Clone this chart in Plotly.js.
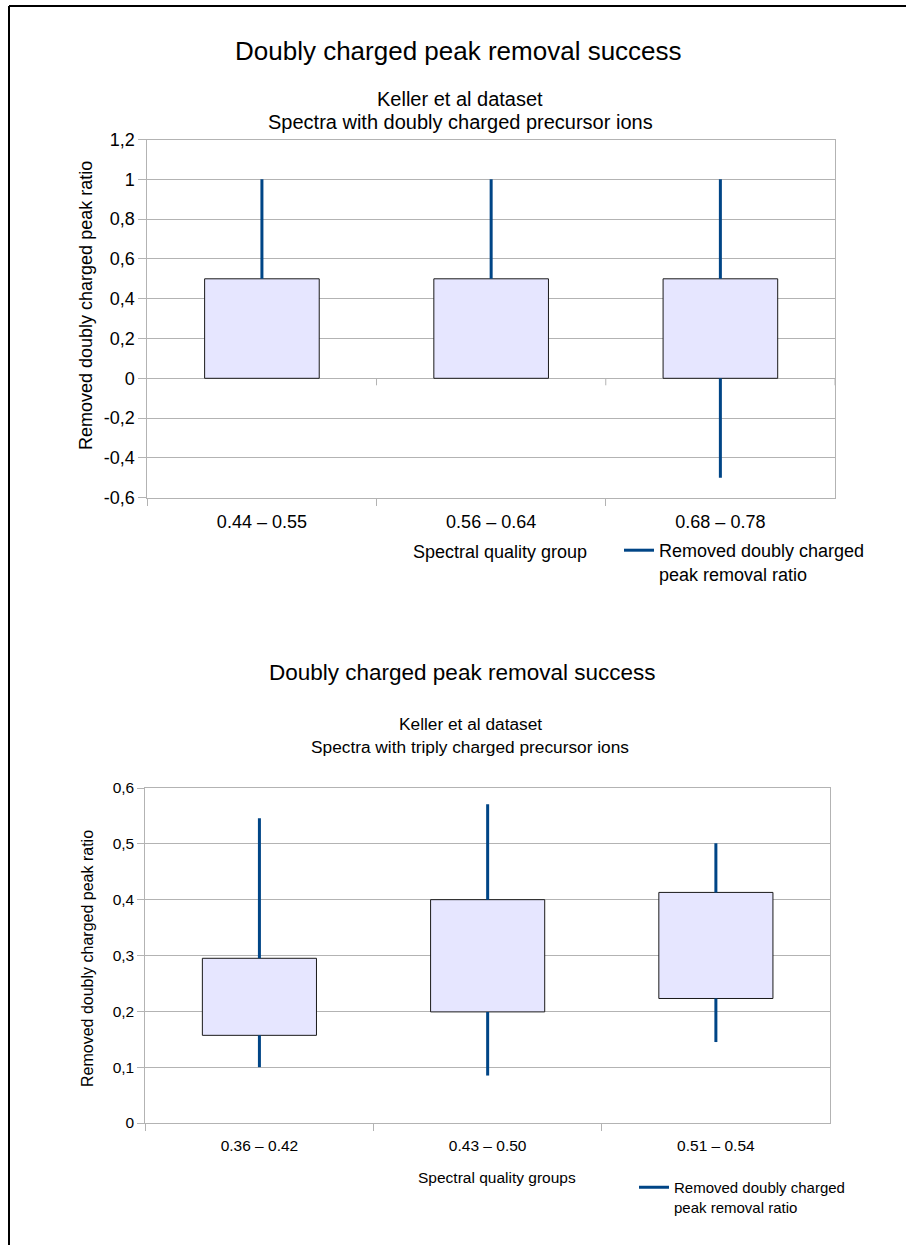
<!DOCTYPE html>
<html>
<head>
<meta charset="utf-8">
<script src="https://cdn.plot.ly/plotly-3.0.1.min.js"></script>
<style>
html,body{margin:0;padding:0;background:#fff;}
#chart{width:906px;height:1245px;}
</style>
</head>
<body>
<div id="chart"></div>
<script>
// ---------- data ----------
const topCategories = ['0.44 – 0.55', '0.56 – 0.64', '0.68 – 0.78'];
const topLow = [0, 0, -0.5];
const topBoxLow = [0, 0, 0];
const topBoxHigh = [0.5, 0.5, 0.5];
const topHigh = [1, 1, 1];

const bottomCategories = ['0.36 – 0.42', '0.43 – 0.50', '0.51 – 0.54'];
const bottomLow = [0.10, 0.085, 0.145];
const bottomBoxLow = [0.157, 0.199, 0.223];
const bottomBoxHigh = [0.295, 0.400, 0.413];
const bottomHigh = [0.546, 0.571, 0.501];

const topYTickVals = [-0.6, -0.4, -0.2, 0, 0.2, 0.4, 0.6, 0.8, 1, 1.2];
const topYTickText = ['-0,6', '-0,4', '-0,2', '0', '0,2', '0,4', '0,6', '0,8', '1', '1,2'];
const bottomYTickVals = [0, 0.1, 0.2, 0.3, 0.4, 0.5, 0.6];
const bottomYTickText = ['0', '0,1', '0,2', '0,3', '0,4', '0,5', '0,6'];

const seriesName = 'Removed doubly charged<br>peak removal ratio';
const yTitle = 'Removed doubly charged peak ratio';
const mainTitle = 'Doubly charged peak removal success';
const topSub1 = 'Keller et al dataset';
const topSub2 = 'Spectra with doubly charged precursor ions';
const bottomSub2 = 'Spectra with triply charged precursor ions';
const topXTitle = 'Spectral quality group';
const bottomXTitle = 'Spectral quality groups';

// ---------- helpers ----------
const W = 906, H = 1245;
const px = x => x / W;
const py = y => 1 - y / H;
const FONT = 'Liberation Sans, Arial, sans-serif';
const GRID = '#b3b3b3';
const BLUE = '#004586';

function whiskers(cats, low, q1, q3, high) {
  const xs = [], ys = [];
  cats.forEach((c, i) => {
    xs.push(c, c, null, c, c, null);
    ys.push(low[i], q1[i], null, q3[i], high[i], null);
  });
  return {x: xs, y: ys};
}

const wTop = whiskers(topCategories, topLow, topBoxLow, topBoxHigh, topHigh);
const wBot = whiskers(bottomCategories, bottomLow, bottomBoxLow, bottomBoxHigh, bottomHigh);

const traces = [
  {
    type: 'bar', x: topCategories, base: topBoxLow,
    y: topBoxHigh.map((v, i) => v - topBoxLow[i]),
    width: 0.5, xaxis: 'x', yaxis: 'y', showlegend: false, hoverinfo: 'skip',
    marker: {color: '#e6e6ff', line: {color: '#1a1a1a', width: 1}}
  },
  {
    type: 'scatter', mode: 'lines', x: wTop.x, y: wTop.y, xaxis: 'x', yaxis: 'y',
    name: seriesName, legend: 'legend', connectgaps: false,
    line: {color: BLUE, width: 3}
  },
  {
    type: 'bar', x: bottomCategories, base: bottomBoxLow,
    y: bottomBoxHigh.map((v, i) => v - bottomBoxLow[i]),
    width: 0.5, xaxis: 'x2', yaxis: 'y2', showlegend: false, hoverinfo: 'skip',
    marker: {color: '#e6e6ff', line: {color: '#1a1a1a', width: 1}}
  },
  {
    type: 'scatter', mode: 'lines', x: wBot.x, y: wBot.y, xaxis: 'x2', yaxis: 'y2',
    name: seriesName, legend: 'legend2', connectgaps: false,
    line: {color: BLUE, width: 3}
  }
];

function xAxis(domain, anchor, size) {
  return {
    type: 'category', domain: domain, anchor: anchor, range: [-0.5, 2.5],
    showgrid: false, zeroline: false, ticks: 'outside', ticklen: 7, tickwidth: 1,
    tickcolor: GRID, tickson: 'boundaries', showline: true, linecolor: GRID,
    linewidth: 1, mirror: true, ticklabelstandoff: 8,
    tickfont: {family: FONT, size: size, color: '#000'},
    fixedrange: true
  };
}
function yAxis(domain, anchor, range, vals, text, size, ticklen) {
  return {
    domain: domain, anchor: anchor, range: range, tickmode: 'array',
    tickvals: vals, ticktext: text, showgrid: true, gridcolor: GRID, gridwidth: 1,
    zeroline: false, ticks: 'outside', ticklen: ticklen, tickcolor: GRID,
    showline: true, linecolor: GRID, linewidth: 1, mirror: true,
    tickfont: {family: FONT, size: size, color: '#000'}, fixedrange: true
  };
}

const ann = (text, x, y, size, extra) => Object.assign({
  text: text, xref: 'paper', yref: 'paper', x: px(x), y: py(y),
  xanchor: 'center', yanchor: 'middle', showarrow: false,
  font: {family: FONT, size: size, color: '#000'}
}, extra || {});

const layout = {
  width: W, height: H,
  margin: {l: 0, r: 0, t: 0, b: 0, pad: 0, autoexpand: false},
  paper_bgcolor: '#fff', plot_bgcolor: '#fff',
  font: {family: FONT, color: '#000'},
  xaxis: xAxis([px(147.3), px(835)], 'y', 18),
  yaxis: yAxis([py(497.7), py(139.5)], 'x', [-0.6, 1.2], topYTickVals, topYTickText, 18, 8),
  xaxis2: xAxis([px(145.3), px(830)], 'y2', 15.5),
  yaxis2: yAxis([py(1123), py(788)], 'x2', [0, 0.6], bottomYTickVals, bottomYTickText, 15.5, 7),
  legend: {
    x: px(619), y: py(532), xanchor: 'left', yanchor: 'top', valign: 'top',
    bgcolor: 'rgba(0,0,0,0)', borderwidth: 0,
    font: {family: FONT, size: 18, color: '#000'}
  },
  legend2: {
    x: px(634), y: py(1171), xanchor: 'left', yanchor: 'top', valign: 'top',
    bgcolor: 'rgba(0,0,0,0)', borderwidth: 0,
    font: {family: FONT, size: 15, color: '#000'}
  },
  annotations: [
    ann(mainTitle, 458, 51, 26),
    ann(topSub1, 460, 99, 20),
    ann(topSub2, 460, 122, 20),
    ann(yTitle, 86, 306, 18, {textangle: -90}),
    ann(topXTitle, 499.5, 552, 18),
    ann(mainTitle, 462, 672, 22.5),
    ann(topSub1, 470, 724, 17.3),
    ann(bottomSub2, 470, 747, 17.3),
    ann(yTitle, 87.5, 958.5, 16, {textangle: -90}),
    ann(bottomXTitle, 496.6, 1177, 15.5)
  ],
  shapes: [
    // outer frame (top and left edges)
    {type: 'line', xref: 'paper', yref: 'paper', x0: px(9), x1: 1.01, y0: py(6), y1: py(6),
     line: {color: '#000', width: 2}},
    {type: 'line', xref: 'paper', yref: 'paper', x0: px(9), x1: px(9), y0: py(6), y1: -0.01,
     line: {color: '#000', width: 2}},
    // small category-boundary ticks on the zero line of the top chart
    ...[0.5, 1.5, 2.5].map(b => ({
      type: 'line', xref: 'x', yref: 'y', x0: b, x1: b, ysizemode: 'pixel', yanchor: 0,
      y0: 0, y1: -7, line: {color: GRID, width: 1}
    }))
  ],
  showlegend: true
};

Plotly.newPlot('chart', traces, layout, {staticPlot: true, displayModeBar: false});
</script>
</body>
</html>
